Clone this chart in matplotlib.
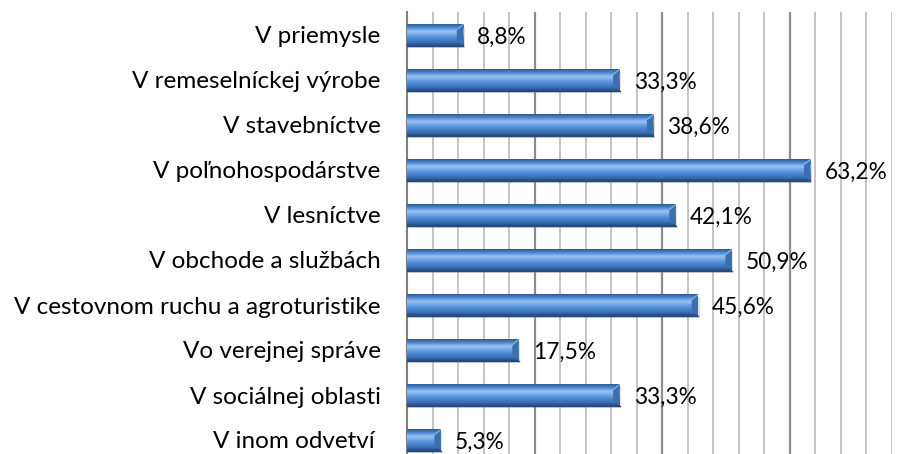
import numpy as np
import matplotlib.pyplot as plt
from matplotlib.colors import LinearSegmentedColormap

# data (share of respondents)
categories = ["V priemysle", "V remeselníckej výrobe", "V stavebníctve",
              "V poľnohospodárstve", "V lesníctve", "V obchode a službách",
              "V cestovnom ruchu a agroturistike", "Vo verejnej správe",
              "V sociálnej oblasti", "V inom odvetví "]
values = [8.8, 33.3, 38.6, 63.2, 42.1, 50.9, 45.6, 17.5, 33.3, 5.3]
labels = ["8,8%", "33,3%", "38,6%", "63,2%", "42,1%", "50,9%",
          "45,6%", "17,5%", "33,3%", "5,3%"]

plt.rcParams['font.family'] = ['Lato', 'DejaVu Sans']

W, H = 908, 454
fig = plt.figure(figsize=(W / 100, H / 100), dpi=100)
# plot area: x 407..892 px, y 12.5..462.5 px (bottom runs off the image)
ax = fig.add_axes([407 / W, (H - 462.5) / H, (892 - 407) / W, 450 / H])

y = np.arange(len(categories))
xmax = 76
ax.set_xlim(0, xmax)
ax.set_ylim(len(categories) - 0.5, -0.5)

# grid lines
for g in np.arange(4, xmax + 0.1, 4):
    major = abs(g % 20) < 1e-6
    ax.axvline(g, color='#8c8c8c' if major else '#c4c4c4', lw=1.6 if major else 1.4, zorder=0)

bars = ax.barh(y, values, height=0.47, color='#4a84cc', zorder=3)

cmap = LinearSegmentedColormap.from_list(
    'bevel', ['#2c5a92', '#4f8bd6', '#9cc4f2', '#6aa2e6', '#4a86d2', '#3a70b6', '#23497c'])
grad = np.linspace(0, 1, 64).reshape(-1, 1)

for b, v in zip(bars, values):
    x0, y0 = b.get_x(), b.get_y()
    w, h = b.get_width(), b.get_height()
    # shadow
    ax.barh(y0 + h / 2 + 0.05, w, height=h, left=0.25, color='#9a9a9a', alpha=0.3, zorder=2)
    im = ax.imshow(grad, extent=[x0, x0 + w, y0 + h, y0], cmap=cmap, aspect='auto',
                   zorder=4, interpolation='bicubic')
    im.set_clip_path(b)
    # bevel at the right end
    ax.fill([x0 + w - 1.0, x0 + w, x0 + w, x0 + w - 1.0],
            [y0 + h * 0.25, y0, y0 + h, y0 + h * 0.75], color='#3b6fb0', zorder=5, lw=0)
    ax.plot([x0 + w - 1.0, x0 + w], [y0 + h * 0.25, y0], color='#8ab6ea', lw=0.8, zorder=5)
    ax.plot([x0, x0 + w], [y0 + h, y0 + h], color='#24497a', lw=1, zorder=5)

for yi, v, lab in zip(y, values, labels):
    ax.text(v + 2.2, yi + 0.05, lab, va='center', ha='left', fontsize=16.3, color='#000000', zorder=6)

ax.set_yticks(y)
ax.set_yticklabels(categories, fontsize=17.5)
ax.tick_params(axis='y', length=0, pad=19)
ax.set_xticks([])
for s in ['top', 'right', 'bottom']:
    ax.spines[s].set_visible(False)
ax.spines['left'].set_color('#7f7f7f')
ax.spines['left'].set_linewidth(1.5)
ax.set_zorder(1)

fig.savefig('out.png', dpi=100)
